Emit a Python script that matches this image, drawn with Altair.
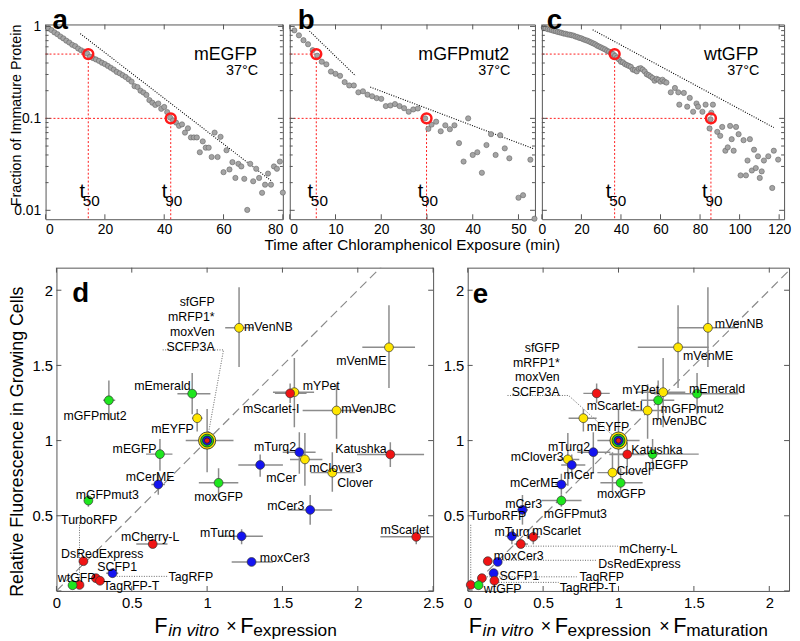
import altair as alt
import pandas as pd

FONT = "Liberation Sans"
FRAME = "#555555"
RED = "#ff1a1a"

# ======================= top row: maturation kinetics =======================
a_t = [1,2,3,4,5,6,7,8,9,10,11,12,13,14,15,16,17,18,19,20,21,22,23,24,25,26,27,28,29,30,
       31,32,33,34,35,36,37,38,39,40,41,42,43,44,45,46,47,48,49,50,51,52,53,54,55,56,57,58,59,60,
       61,62,63,64,65,66,67,68,69,70,71,72,73,74,75,76,77,78,79,80]
a_v = [0.955,0.912,0.861,0.822,0.776,0.741,0.700,0.668,0.631,0.610,
       0.575,0.550,0.531,0.507,0.468,0.452,0.437,0.422,0.403,0.389,
       0.372,0.355,0.339,0.320,0.309,0.295,0.282,0.266,0.251,0.224,
       0.219,0.200,0.191,0.180,0.158,0.148,0.140,0.145,0.127,0.133,
       0.117,0.102,0.095,0.090,0.083,0.086,0.070,0.078,0.062,0.062,
       0.062,0.0428,0.0562,0.048,0.048,0.038,0.070,0.038,0.063,0.026,
       0.045,0.0278,0.0334,0.0225,0.032,0.030,0.022,0.0101,0.032,0.0207,
       0.0283,0.0225,0.0155,0.019,0.0251,0.019,0.030,0.0283,0.0339,0.0156]
a_fit_t = [11.7, 76.3]
a_fit_v = [0.834, 0.0207]
a_fit_seg = [1, 1]
a_t50, a_t90 = 14.4, 42.2

b_t = [1,2,3,4,5,6,7,8,9,10,11,12,13,14,15,16,17,18,19,20,21,22,23,24,25,26,27,28,29.6,30.3,
       31,32,33,34,35,36,37,38,39,40,41,42,43,44,45,46,47,48,50,51,52.6,53.5]
b_v = [0.906,0.800,0.708,0.640,0.552,0.480,0.413,0.387,0.323,0.305,
       0.290,0.248,0.228,0.228,0.192,0.197,0.181,0.174,0.166,0.163,
       0.136,0.138,0.143,0.136,0.129,0.118,0.125,0.128,0.100,0.077,
       0.0855,0.092,0.0724,0.0841,0.0762,0.0841,0.0538,0.0339,0.100,0.040,
       0.0428,0.0256,0.0513,0.0673,0.040,0.0656,0.0472,0.0368,
       0.0137,0.0146,0.0355,0.0081]
b_fit_t = [4.3, 14.4, 17.6, 53.5]
b_fit_v = [0.891, 0.290, 0.219, 0.0464]
b_fit_seg = [1, 1, 2, 2]
b_t50, b_t90 = 5.8, 29.9

c_t = [1,2,3,4,5,6,7,8,9,10,11,12,13,14,15,16,17,18,19,20,21,22,23,24,25,26,27,28,29,30,
       31,32,33,34,35,36,37,38,39,40,41,42,43,44,45,46,47,48,49,50,51,52,53,54,55,56,57,58,59,60,
       61,62,63,
       65.2,67.3,69,69.5,71.8,73.5,74.8,76.5,78.2,79,81.2,82.8,84.8,85.3,85.7,86.5,88.7,90.2,91.2,92.8,
       94,95.2,96,97,98.2,99.5,100.5,102,103.2,104,105.2,106.2,107.3,108.2,109.3,110.2,111.2,112.3,114.5,116.5,
       117.3,119.5]
c_v = [0.966,0.955,0.933,0.923,0.912,0.895,0.887,0.871,0.861,0.851,
       0.836,0.832,0.817,0.813,0.802,0.794,0.776,0.767,0.750,0.741,
       0.724,0.711,0.700,0.684,0.668,0.653,0.638,0.617,0.603,0.589,
       0.575,0.562,0.543,0.531,0.513,0.501,0.479,0.457,0.437,0.412,
       0.407,0.389,0.380,0.372,0.363,0.339,0.335,0.324,0.347,0.351,
       0.339,0.324,0.302,0.295,0.285,0.275,0.257,0.269,0.263,0.251,
       0.263,0.251,0.245,
       0.192,0.214,0.192,0.141,0.189,0.134,0.167,0.118,0.145,0.134,
       0.118,0.141,0.0776,0.0977,0.115,0.141,0.0713,0.0646,0.0807,0.0445,
       0.0484,0.0828,0.0594,0.0445,0.0807,0.0673,0.0240,0.0579,0.0240,0.0348,
       0.0594,0.0271,0.0456,0.0288,0.0387,0.0225,0.0265,0.0348,0.0387,0.0175,
       0.0445,0.0356]
c_fit_t = [25.7, 117.3]
c_fit_v = [0.920, 0.0794]
c_fit_seg = [1, 1]
c_t50, c_t90 = 36.8, 85.5

xticks_a = [0, 20, 40, 60, 80]
xticks_b = [0, 10, 20, 30, 40, 50]
xticks_c = [0, 20, 40, 60, 80, 100, 120]
log_major = [0.01, 0.1, 1]
log_minor = [0.02, 0.03, 0.04, 0.05, 0.06, 0.07, 0.08, 0.09,
             0.2, 0.3, 0.4, 0.5, 0.6, 0.7, 0.8, 0.9]

# ======================= bottom row: brightness =======================
proteins = ["mVenNB", "mVenME", "mYPet", "mScarlet-I", "mVenJBC", "mTurq2", "mClover3", "mCer",
            "Clover", "Katushka", "mCer3", "mScarlet", "mTurq", "moxCer3", "moxGFP", "mCerME",
            "mEGFP", "mEmerald", "mEYFP", "mGFPmut2", "mGFPmut3", "mCherry-L", "DsRedExpress",
            "SCFP1", "TagRFP", "TagRFP-T", "TurboRFP", "wtGFP"]
colour_class = ["Y", "Y", "Y", "R", "Y", "B", "Y", "B",
                "Y", "R", "B", "R", "B", "B", "G", "B",
                "G", "G", "Y", "G", "G", "R", "R",
                "B", "R", "R", "R", "G"]
rel_fluor = [1.75, 1.62, 1.322, 1.314, 1.20, 0.923, 0.875, 0.838,
             0.787, 0.908, 0.539, 0.36, 0.364, 0.193, 0.719, 0.708,
             0.91, 1.312, 1.149, 1.268, 0.601, 0.312, 0.198,
             0.118, 0.085, 0.068, 0.04, 0.038]
rel_lo = [1.49, 1.35, 1.088, 1.25, 1.013, 0.78, 0.70, 0.759,
          0.66, 0.824, 0.441, 0.31, 0.31, 0.17, 0.625, 0.64,
          0.80, 1.176, 1.06, 1.136, 0.56, 0.29, 0.18,
          0.10, 0.075, 0.06, 0.035, 0.032]
rel_hi = [2.02, 1.90, 1.55, 1.38, 1.375, 1.055, 1.05, 0.908,
          0.923, 0.989, 0.638, 0.41, 0.41, 0.22, 0.816, 0.78,
          1.01, 1.449, 1.21, 1.40, 0.64, 0.34, 0.22,
          0.135, 0.095, 0.075, 0.045, 0.045]

# d: F_in vitro x F_expression
d_x = [1.212, 2.207, 1.579, 1.551, 1.859, 1.612, 1.649, 1.352,
       1.831, 2.216, 1.684, 2.388, 1.229, 1.295, 1.076, 0.676,
       0.687, 0.901, 0.934, 0.348, 0.212, 0.639, 0.179,
       0.372, 0.262, 0.289, 0.153, 0.107]
d_xlo = [1.12, 2.03, 1.437, 1.45, 1.634, 1.502, 1.55, 1.207,
         1.687, 1.995, 1.535, 2.15, 1.08, 1.163, 0.945, 0.63,
         0.595, 0.803, 0.90, 0.31, 0.19, 0.53, 0.16,
         0.33, 0.25, 0.27, 0.14, 0.10]
d_xhi = [1.31, 2.38, 1.71, 1.66, 2.08, 1.72, 1.765, 1.503,
         1.98, 2.44, 1.83, 2.60, 1.37, 1.437, 1.207, 0.72,
         0.77, 1.022, 0.97, 0.39, 0.235, 0.737, 0.20,
         0.41, 0.275, 0.31, 0.165, 0.115]
# e: F_in vitro x F_expression x F_maturation
e_x = [1.593, 1.395, 1.296, 0.855, 1.193, 0.833, 0.664, 0.69,
       0.96, 1.058, 0.363, 0.435, 0.293, 0.199, 1.014, 0.621,
       1.226, 1.521, 0.767, 1.263, 0.621, 0.352, 0.133,
       0.172, 0.094, 0.177, 0.02, 0.072]
e_xlo = [1.39, 1.128, 1.115, 0.767, 1.08, 0.727, 0.60, 0.62,
         0.86, 0.94, 0.33, 0.39, 0.25, 0.18, 0.88, 0.58,
         0.94, 1.237, 0.669, 1.15, 0.49, 0.31, 0.12,
         0.15, 0.08, 0.16, 0.015, 0.06]
e_xhi = [1.795, 1.598, 1.443, 0.942, 1.31, 0.946, 0.74, 0.78,
         1.10, 1.172, 0.40, 0.48, 0.34, 0.22, 1.16, 0.66,
         1.532, 1.795, 0.855, 1.37, 0.755, 0.40, 0.15,
         0.19, 0.11, 0.19, 0.025, 0.085]

# reference group (sfGFP, mRFP1*, moxVen, SCFP3A) at (1, 1)
ref_names = ["sfGFP", "mRFP1*", "moxVen", "SCFP3A"]
ref_x, ref_y = 1.0, 1.0
ref_ylo, ref_yhi = 0.79, 1.21
d_ref_xlo, d_ref_xhi = 0.858, 1.175
e_ref_xlo, e_ref_xhi = 0.86, 1.14

COLOURS = {"G": "#1ee61e", "Y": "#ffe600", "R": "#f01414", "B": "#1414f0"}

# label placement (x, y in data units, alignment)
d_labels = {
    "mVenNB": (1.245, 1.757, "L"), "mVenME": (2.19, 1.526, "R"), "mYPet": (1.634, 1.362, "L"),
    "mScarlet-I": (1.612, 1.209, "R"), "mVenJBC": (1.89, 1.209, "L"), "mTurq2": (1.59, 0.956, "R"),
    "mClover3": (1.678, 0.82, "L"), "mCer": (1.393, 0.754, "L"), "Clover": (1.864, 0.719, "L"),
    "Katushka": (2.192, 0.941, "R"), "mCer3": (1.645, 0.566, "R"), "mScarlet": (2.474, 0.408, "R"),
    "mTurq": (1.186, 0.386, "R"), "moxCer3": (1.35, 0.222, "L"), "moxGFP": (1.076, 0.623, "C"),
    "mCerME": (0.622, 0.759, "C"), "mEGFP": (0.664, 0.945, "R"), "mEmerald": (0.89, 1.362, "R"),
    "mEYFP": (0.912, 1.077, "R"), "mGFPmut2": (0.256, 1.164, "C"), "mGFPmut3": (0.337, 0.638, "C"),
    "TurboRFP": (0.031, 0.474, "L"), "mCherry-L": (0.622, 0.36, "C"), "DsRedExpress": (0.031, 0.243, "L"),
    "SCFP1": (0.271, 0.156, "L"), "TagRFP": (0.744, 0.09, "L"), "TagRFP-T": (0.31, 0.031, "L"),
    "wtGFP": (0.009, 0.084, "L"),
    "sfGFP": (1.05, 1.921, "R"), "mRFP1*": (1.05, 1.822, "R"), "moxVen": (1.05, 1.724, "R"),
    "SCFP3A": (1.05, 1.625, "R"),
}
e_labels = {
    "mVenNB": (1.639, 1.772, "L"), "mVenME": (1.428, 1.559, "L"), "mYPet": (1.27, 1.333, "R"),
    "mEmerald": (1.467, 1.34, "L"), "mScarlet-I": (0.789, 1.23, "L"), "mGFPmut2": (1.281, 1.209, "L"),
    "mVenJBC": (1.222, 1.132, "L"), "mEYFP": (0.789, 1.088, "L"), "mTurq2": (0.811, 0.956, "R"),
    "Katushka": (1.084, 0.939, "L"), "mClover3": (0.636, 0.89, "R"), "mEGFP": (1.172, 0.836, "L"),
    "mCer": (0.636, 0.77, "L"), "Clover": (0.986, 0.798, "L"), "mCerME": (0.603, 0.715, "R"),
    "moxGFP": (1.019, 0.645, "C"), "mCer3": (0.494, 0.579, "R"), "mGFPmut3": (0.505, 0.513, "L"),
    "TurboRFP": (0.013, 0.495, "L"), "mTurq": (0.177, 0.39, "L"), "mScarlet": (0.428, 0.397, "L"),
    "mCherry-L": (1.003, 0.281, "L"), "moxCer3": (0.172, 0.232, "L"), "DsRedExpress": (0.866, 0.182, "L"),
    "SCFP1": (0.21, 0.101, "L"), "TagRFP": (0.741, 0.09, "L"), "wtGFP": (0.107, 0.013, "L"),
    "TagRFP-T": (0.61, 0.018, "L"),
    "sfGFP": (0.61, 1.614, "R"), "mRFP1*": (0.61, 1.515, "R"), "moxVen": (0.61, 1.421, "R"),
    "SCFP3A": (0.61, 1.324, "R"),
}
# dotted leader lines: list of polylines
d_leaders = [[(0.705, 1.603), (1.109, 1.603), (1.0, 1.0)],
             [(0.153, 0.456), (0.153, 0.04)],
             [(0.40, 0.097), (0.737, 0.097)]]
e_leaders = [[(0.264, 1.30), (0.669, 1.30), (1.0, 1.0)],
             [(0.385, 0.298), (0.997, 0.298)],
             [(0.155, 0.204), (0.855, 0.204)],
             [(0.111, 0.094), (0.723, 0.094)],
             [(0.188, 0.057), (0.603, 0.057)],
             [(0.02, 0.44), (0.02, 0.04)]]

xticks_d = [0, 0.5, 1, 1.5, 2, 2.5]
xticks_e = [0, 0.5, 1, 1.5, 2]
yticks_bottom = [0, 0.5, 1, 1.5, 2]
ylabels_bottom = [0.5, 1, 1.5, 2]

YMIN, YMAX = 0.008, 1.05
TOP_H, BOT_H = 197, 327
TICK = 5

NOAXIS = dict(title=None, ticks=False, domain=False, grid=False, labels=False)


def one(**kw):
    return pd.DataFrame({k: [v] for k, v in kw.items()})


def ptext(s, x, y, **mk):
    return alt.Chart(one(s=s)).mark_text(**mk).encode(text="s:N", x=alt.value(x), y=alt.value(y))


def tick_layers(xvals, X, yvals, Y, W, H, ln=TICK, yminor=None, yminor_ln=3):
    out = []
    dfx = pd.DataFrame({"x": xvals})
    dfy = pd.DataFrame({"y": yvals})
    out.append(alt.Chart(dfx).mark_rule(color=FRAME).encode(x=X("x"), y=alt.value(H - ln), y2=alt.value(H)))
    out.append(alt.Chart(dfx).mark_rule(color=FRAME).encode(x=X("x"), y=alt.value(0), y2=alt.value(ln)))
    out.append(alt.Chart(dfy).mark_rule(color=FRAME).encode(y=Y("y"), x=alt.value(0), x2=alt.value(ln)))
    out.append(alt.Chart(dfy).mark_rule(color=FRAME).encode(y=Y("y"), x=alt.value(W - ln), x2=alt.value(W)))
    if yminor:
        dfm = pd.DataFrame({"y": yminor})
        out.append(alt.Chart(dfm).mark_rule(color=FRAME).encode(y=Y("y"), x=alt.value(0), x2=alt.value(yminor_ln)))
        out.append(alt.Chart(dfm).mark_rule(color=FRAME).encode(y=Y("y"), x=alt.value(W - yminor_ln), x2=alt.value(W)))
    return out


def top_panel(t, v, fit_t, fit_v, fit_seg, t50, t90, name, letter, letter_x, xmax, xticks, W,
              show_ylabels=False, flush=True, extra=()):
    H = TOP_H
    xs = alt.Scale(domain=[0, xmax], nice=False, zero=False)
    ys = alt.Scale(type="log", domain=[YMIN, YMAX], nice=False)
    xaxis = alt.Axis(values=xticks, title=None, ticks=False, domain=False, grid=False,
                     labelFontSize=14, labelPadding=3, labelFlush=flush, labelOverlap=False,
                     labelColor="black")
    if show_ylabels:
        yaxis = alt.Axis(values=log_major, format="~g", title=None, ticks=False, domain=False,
                         grid=False, labelFontSize=14, labelPadding=5, labelColor="black")
    else:
        yaxis = alt.Axis(values=log_major, **NOAXIS)

    def X(f):
        return alt.X(f, type="quantitative", scale=xs, axis=xaxis)

    def Y(f):
        return alt.Y(f, type="quantitative", scale=ys, axis=yaxis)

    hg = alt.Chart(pd.DataFrame({"x0": [0, 0], "x1": [t50, t90], "y": [0.5, 0.1]})).mark_rule(
        color=RED, strokeDash=[2, 2], strokeWidth=1).encode(x=X("x0"), x2="x1", y=Y("y"))
    vg = alt.Chart(pd.DataFrame({"x": [t50, t90], "y0": [0.5, 0.1], "y1": [YMIN, YMIN]})).mark_rule(
        color=RED, strokeDash=[2, 2], strokeWidth=1).encode(x=X("x"), y=Y("y0"), y2="y1")
    fit = alt.Chart(pd.DataFrame({"t": fit_t, "v": fit_v, "seg": fit_seg})).mark_line(
        color="black", strokeDash=[1, 1.5], strokeWidth=1.1).encode(x=X("t"), y=Y("v"), detail="seg:N")
    pts = alt.Chart(pd.DataFrame({"t": t, "v": v})).mark_circle(
        size=28, color="#a4a4a4", stroke="#666666", strokeWidth=0.6, opacity=1).encode(
        x=X("t"), y=Y("v"))
    circ = alt.Chart(pd.DataFrame({"t": [t50, t90], "v": [0.5, 0.1]})).mark_point(
        shape="circle", filled=False, size=100, strokeWidth=2.5, color=RED, opacity=1).encode(
        x=X("t"), y=Y("v"))
    tl = pd.DataFrame({"t": [t50, t90], "sub": ["50", "90"]})
    tlab = alt.Chart(tl).mark_text(text="t", fontSize=20, align="left", dx=-9).encode(
        x=X("t"), y=alt.value(170))
    slab = alt.Chart(tl).mark_text(fontSize=15.5, align="left", dx=-5.5).encode(
        x=X("t"), y=alt.value(179), text="sub:N")
    nm = ptext(name, W - 26, 31, fontSize=18, align="right")
    temp = ptext("37°C", W - 25, 47, fontSize=14.5, align="right")
    let = ptext(letter, letter_x, -3, fontSize=28, fontWeight="bold", align="left")
    ticks = tick_layers(xticks, X, log_major, Y, W, H, yminor=log_minor)
    return alt.layer(hg, vg, fit, pts, circ, tlab, slab, nm, temp, let, *ticks, *extra).properties(
        width=W, height=H)


def bottom_panel(px, pxlo, pxhi, rxlo, rxhi, labels, leaders, xmax, W, xticks, letter, lxy,
                 extra=()):
    H = BOT_H
    xs = alt.Scale(domain=[0, xmax], nice=False, zero=False)
    ys = alt.Scale(domain=[0, 2.15], nice=False, zero=False)
    xaxis = alt.Axis(values=xticks, format="~g", title=None, ticks=False, domain=False, grid=False,
                     labelFontSize=15, labelPadding=5, labelFlush=False, labelOverlap=False,
                     labelColor="black")
    yaxis = alt.Axis(values=ylabels_bottom, format="~g", title=None, ticks=False, domain=False,
                     grid=False, labelFontSize=15, labelPadding=4, labelColor="black")

    def X(f):
        return alt.X(f, type="quantitative", scale=xs, axis=xaxis)

    def Y(f):
        return alt.Y(f, type="quantitative", scale=ys, axis=yaxis)

    df = pd.DataFrame({"name": proteins, "cls": colour_class, "x": px, "xlo": pxlo, "xhi": pxhi,
                       "y": rel_fluor, "ylo": rel_lo, "yhi": rel_hi})
    refdf = one(x=ref_x, y=ref_y, xlo=rxlo, xhi=rxhi, ylo=ref_ylo, yhi=ref_yhi)
    both = pd.concat([df, refdf], ignore_index=True)

    diag = alt.Chart(pd.DataFrame({"x": [0, 2.2], "y": [0, 2.2]})).mark_line(
        color="#8a8a8a", strokeDash=[9, 5], strokeWidth=1.2, clip=True).encode(x=X("x"), y=Y("y"))
    lead_rows = []
    for i, poly in enumerate(leaders):
        for j, (lx, ly) in enumerate(poly):
            lead_rows.append({"id": i, "o": j, "x": lx, "y": ly})
    lead = alt.Chart(pd.DataFrame(lead_rows)).mark_line(
        color="#666666", strokeDash=[1, 1.5], strokeWidth=1).encode(
        x=X("x"), y=Y("y"), detail="id:N", order="o:Q")
    ebx = alt.Chart(both).mark_rule(color="#8c8c8c", strokeWidth=1.5, clip=True).encode(
        x=X("xlo"), x2="xhi", y=Y("y"))
    eby = alt.Chart(both).mark_rule(color="#8c8c8c", strokeWidth=1.5, clip=True).encode(
        x=X("x"), y=Y("ylo"), y2="yhi")
    pts = alt.Chart(df).mark_circle(size=80, stroke="#333333", strokeWidth=0.7, opacity=1).encode(
        x=X("x"), y=Y("y"),
        color=alt.Color("cls:N", scale=alt.Scale(domain=list(COLOURS), range=list(COLOURS.values())),
                        legend=None))
    refl = []
    for size, col in [(300, COLOURS["Y"]), (170, COLOURS["G"]), (85, COLOURS["B"]), (28, COLOURS["R"])]:
        refl.append(alt.Chart(one(x=ref_x, y=ref_y)).mark_circle(
            size=size, color=col, stroke="#222222", strokeWidth=0.8, opacity=1).encode(x=X("x"), y=Y("y")))
    lab = pd.DataFrame([{"s": k, "x": v[0], "y": v[1], "al": v[2]} for k, v in labels.items()])
    labl = []
    for code, al in [("L", "left"), ("R", "right"), ("C", "center")]:
        labl.append(alt.Chart(lab).transform_filter(alt.datum.al == code).mark_text(
            fontSize=12.5, align=al).encode(x=X("x"), y=Y("y"), text="s:N"))
    let = ptext(letter, lxy[0], lxy[1], fontSize=28, fontWeight="bold", align="left")
    ticks = tick_layers(xticks, X, yticks_bottom, Y, W, H)
    return alt.layer(diag, lead, ebx, eby, pts, *refl, *labl, let, *ticks, *extra).properties(
        width=W, height=H)


# ---- titles (typeset pieces) ----
ytitle_top = alt.Chart(one(s="Fraction of Immature Protein")).mark_text(
    angle=270, fontSize=14.5, align="center", baseline="bottom").encode(
    text="s:N", x=alt.value(-22), y=alt.value(92))
xtitle_top = ptext("Time after Chloramphenicol Exposure (min)", 124, 223, fontSize=15.5, align="center")
ytitle_bot = alt.Chart(one(s="Relative Fluorescence in Growing Cells")).mark_text(
    angle=270, fontSize=18, align="center", baseline="bottom").encode(
    text="s:N", x=alt.value(-30), y=alt.value(176))


def ftitle(pieces):
    out = []
    for s, x, y, size, style, al in pieces:
        kw = dict(fontSize=size, align=al)
        if style:
            kw["fontStyle"] = style
        out.append(ptext(s, x, y, **kw))
    return out


FY, SY, MY = 363, 368, 364
d_title = ftitle([("F", 99, FY, 22, None, "left"), ("in vitro", 113, SY, 17.5, "italic", "left"),
                  ("×", 177, MY, 18, None, "center"), ("F", 186, FY, 22, None, "left"),
                  ("expression", 199, SY, 17.5, None, "left")])
e_title = ftitle([("F", 1, FY, 22, None, "left"), ("in vitro", 15, SY, 17.5, "italic", "left"),
                  ("×", 79, MY, 18, None, "center"), ("F", 88, FY, 22, None, "left"),
                  ("expression", 101, SY, 17.5, None, "left"), ("×", 199, MY, 18, None, "center"),
                  ("F", 208, FY, 22, None, "left"), ("maturation", 221, SY, 17.5, None, "left")])

pa = top_panel(a_t, a_v, a_fit_t, a_fit_v, a_fit_seg, a_t50, a_t90, "mEGFP", "a", 7, 80, xticks_a, 240,
               show_ylabels=True, extra=[ytitle_top])
pb = top_panel(b_t, b_v, b_fit_t, b_fit_v, b_fit_seg, b_t50, b_t90, "mGFPmut2", "b", 8, 53.6, xticks_b, 248,
               extra=[xtitle_top])
pc = top_panel(c_t, c_v, c_fit_t, c_fit_v, c_fit_seg, c_t50, c_t90, "wtGFP", "c", 5, 122.5, xticks_c, 245,
               flush=False)

pd_ = bottom_panel(d_x, d_xlo, d_xhi, d_ref_xlo, d_ref_xhi, d_labels, d_leaders, 2.5, 381, xticks_d,
                   "d", (16, 27), extra=[ytitle_bot, *d_title])
pe = bottom_panel(e_x, e_xlo, e_xhi, e_ref_xlo, e_ref_xhi, e_labels, e_leaders, 2.131, 325, xticks_e,
                  "e", (5, 28), extra=e_title)

spacer = alt.Chart(one(a=0)).mark_point(opacity=0).encode(x=alt.value(0), y=alt.value(0)).properties(
    width=11, height=10, view=alt.ViewBackground(strokeOpacity=0))

top = alt.hconcat(pa, pb, pc, spacing=7, bounds="flush")
bottom = alt.hconcat(spacer, alt.hconcat(pd_, pe, spacing=35, bounds="flush"), spacing=0, bounds="flush")

chart = alt.vconcat(top, bottom, spacing=11).properties(
    padding={"left": 0, "top": -5, "right": 0, "bottom": 0}
).configure(font=FONT).configure_view(stroke=FRAME, strokeWidth=1).configure_axis(
    labelFont=FONT, labelColor="black")

chart.save("out.html", embed_options={"renderer": "svg", "actions": False})
